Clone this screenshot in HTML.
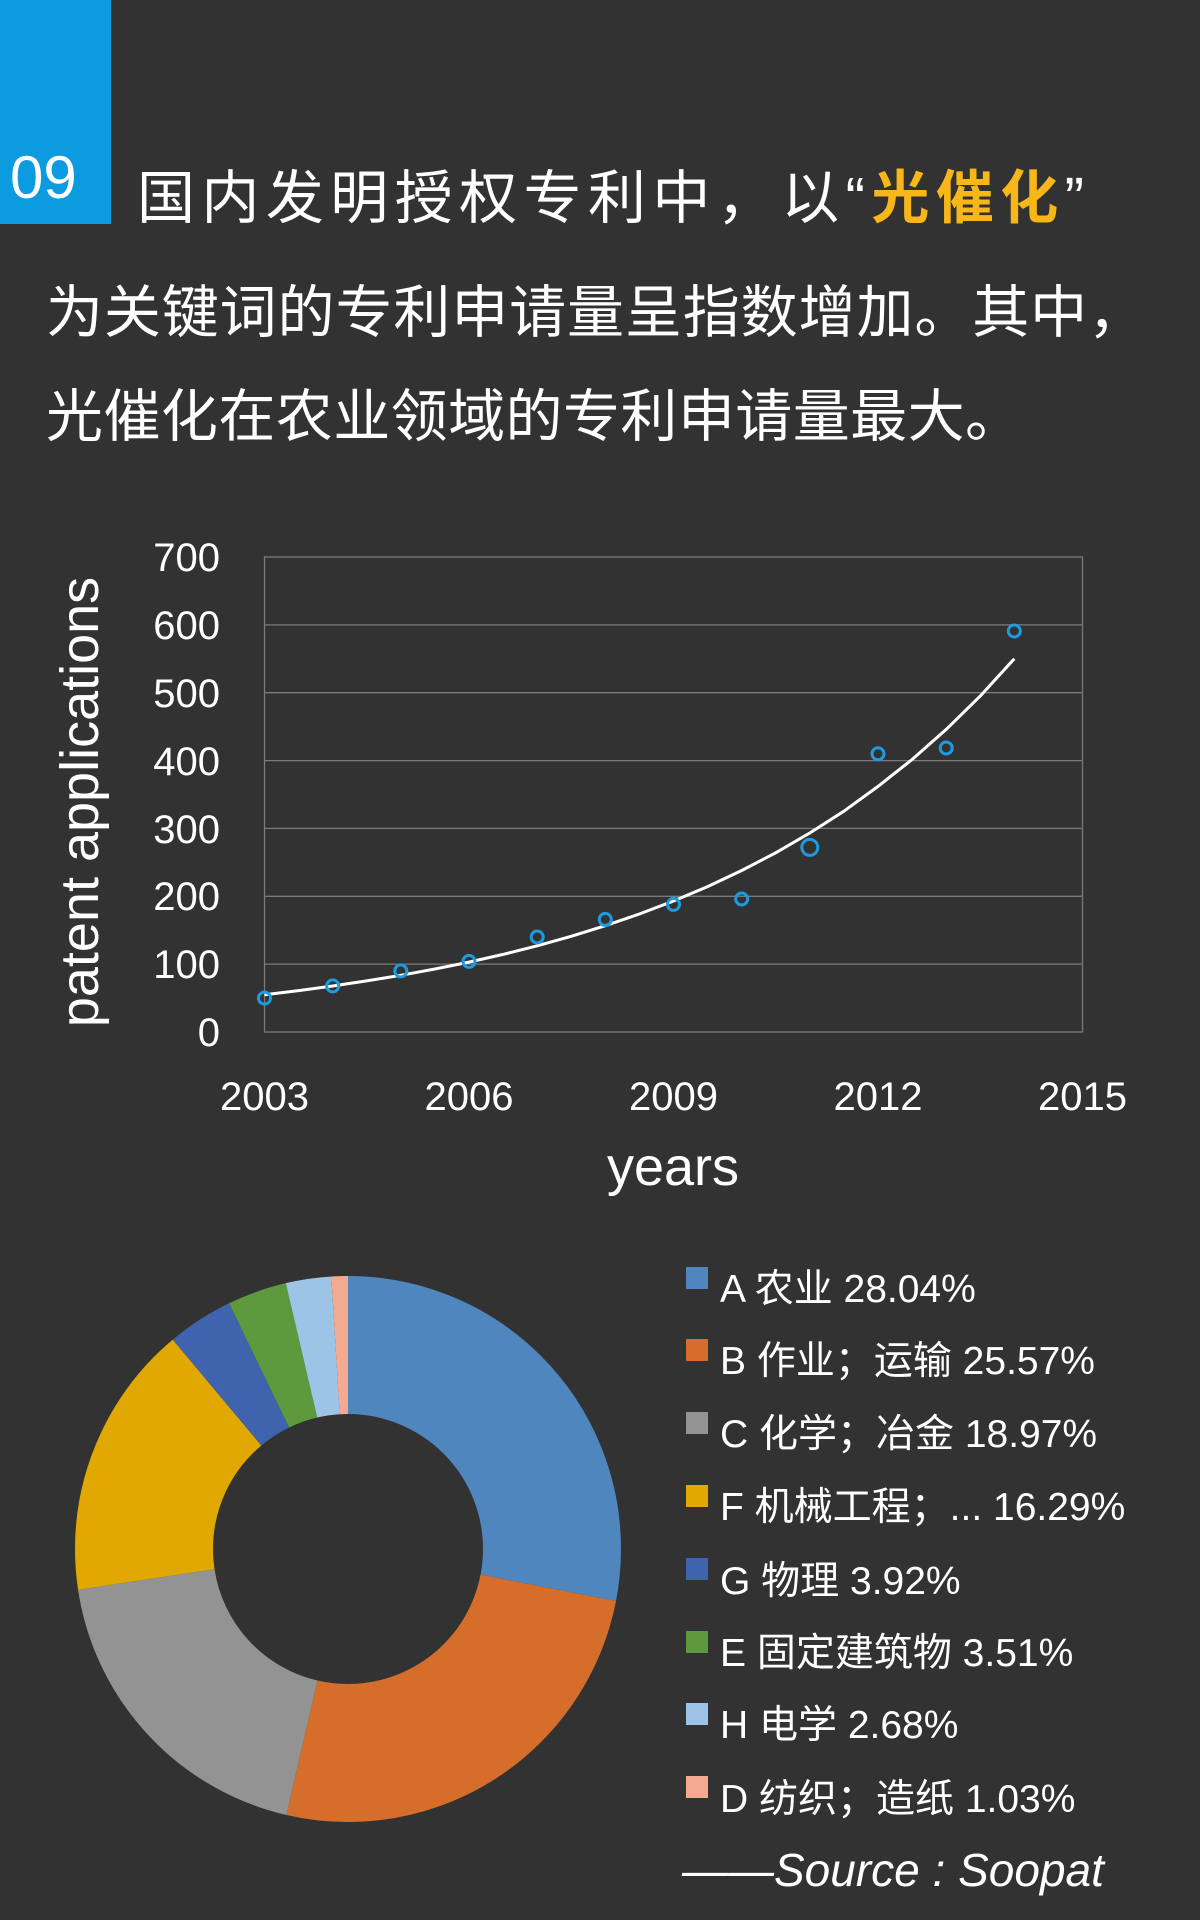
<!DOCTYPE html>
<html><head><meta charset="utf-8"><style>
html,body{margin:0;padding:0;background:#323232;}
svg{display:block;}
text{font-family:"Liberation Sans","Noto Sans CJK SC",sans-serif;}
</style></head><body>
<svg width="1200" height="1920" viewBox="0 0 1200 1920" xmlns="http://www.w3.org/2000/svg">
<rect width="1200" height="1920" fill="#323232"/>
<rect x="0" y="0" width="111" height="224" fill="#0d9be0"/>
<text x="10" y="198" font-size="60" fill="#fff">09</text>
<text x="137" y="218" font-size="58" fill="#fff" textLength="947" lengthAdjust="spacing">国内发明授权专利中，以“<tspan fill="#f7b719" font-weight="bold">光催化</tspan>”</text>
<text x="46" y="332" font-size="57" fill="#fff" textLength="1099" lengthAdjust="spacing">为关键词的专利申请量呈指数增加。其中，</text>
<text x="46" y="436" font-size="57" fill="#fff" textLength="976" lengthAdjust="spacing">光催化在农业领域的专利申请量最大。</text>

<g stroke="#7a7a7a" stroke-width="1.3" fill="none">
<rect x="264.5" y="557" width="818" height="475"/>
<line x1="264.5" y1="624.9" x2="1082.5" y2="624.9"/>
<line x1="264.5" y1="692.7" x2="1082.5" y2="692.7"/>
<line x1="264.5" y1="760.6" x2="1082.5" y2="760.6"/>
<line x1="264.5" y1="828.4" x2="1082.5" y2="828.4"/>
<line x1="264.5" y1="896.3" x2="1082.5" y2="896.3"/>
<line x1="264.5" y1="964.1" x2="1082.5" y2="964.1"/>
</g>
<g font-size="40" fill="#fff" text-anchor="end">
<text x="220" y="571">700</text><text x="220" y="639">600</text><text x="220" y="707">500</text>
<text x="220" y="775">400</text><text x="220" y="843">300</text><text x="220" y="910">200</text>
<text x="220" y="978">100</text><text x="220" y="1046">0</text>
</g>
<g font-size="40" fill="#fff" text-anchor="middle">
<text x="264.5" y="1110">2003</text><text x="469" y="1110">2006</text><text x="673.5" y="1110">2009</text>
<text x="878" y="1110">2012</text><text x="1082.5" y="1110">2015</text>
</g>
<text x="673" y="1185" font-size="54" fill="#fff" text-anchor="middle">years</text>
<text transform="translate(98,802) rotate(-90)" font-size="54" fill="#fff" text-anchor="middle">patent  applications</text>
<polyline fill="none" stroke="#fff" stroke-width="3" stroke-linejoin="round" points="264.5,994.7 298.6,990.6 332.7,986 366.7,980.9 400.8,975.3 434.9,969 469,962.1 503.1,954.4 537.2,945.8 571.2,936.3 605.3,925.7 639.4,914 673.5,901 707.6,886.6 741.7,870.5 775.7,852.8 809.8,833 843.9,811.2 878,786.4 912.1,759.5 946.2,729.4 980.2,696.1 1014.3,658.8"/>
<g fill="none" stroke="#1e9be0" stroke-width="3">
<circle cx="264.5" cy="998.1" r="6"/><circle cx="332.7" cy="985.9" r="6"/><circle cx="400.8" cy="970.9" r="6"/>
<circle cx="469" cy="961.4" r="6"/><circle cx="537.2" cy="937" r="6"/><circle cx="605.3" cy="919.4" r="6"/>
<circle cx="673.5" cy="904.4" r="6"/><circle cx="741.7" cy="899" r="6"/><circle cx="809.8" cy="847.4" r="8"/>
<circle cx="878" cy="753.8" r="6"/><circle cx="946.2" cy="748" r="6"/><circle cx="1014.3" cy="631" r="6"/>
</g>

<g transform="rotate(-90 348 1549)" fill="none" stroke-width="138">
<circle cx="348" cy="1549" r="204" stroke="#4e86bd" stroke-dasharray="359.4 2000" stroke-dashoffset="0"/>
<circle cx="348" cy="1549" r="204" stroke="#d46e2a" stroke-dasharray="327.8 2000" stroke-dashoffset="-359.4"/>
<circle cx="348" cy="1549" r="204" stroke="#939393" stroke-dasharray="243.2 2000" stroke-dashoffset="-687.2"/>
<circle cx="348" cy="1549" r="204" stroke="#e0a800" stroke-dasharray="208.8 2000" stroke-dashoffset="-930.4"/>
<circle cx="348" cy="1549" r="204" stroke="#3f63ac" stroke-dasharray="50.2 2000" stroke-dashoffset="-1139.2"/>
<circle cx="348" cy="1549" r="204" stroke="#5e9a3d" stroke-dasharray="45 2000" stroke-dashoffset="-1189.4"/>
<circle cx="348" cy="1549" r="204" stroke="#9dc3e6" stroke-dasharray="34.4 2000" stroke-dashoffset="-1234.4"/>
<circle cx="348" cy="1549" r="204" stroke="#f4aa90" stroke-dasharray="13.2 2000" stroke-dashoffset="-1268.8"/>
</g>

<g>
<rect x="686" y="1267" width="22" height="22" fill="#4e86bd"/>
<rect x="686" y="1339" width="22" height="22" fill="#d46e2a"/>
<rect x="686" y="1412" width="22" height="22" fill="#939393"/>
<rect x="686" y="1485" width="22" height="22" fill="#e0a800"/>
<rect x="686" y="1558" width="22" height="22" fill="#3f63ac"/>
<rect x="686" y="1631" width="22" height="22" fill="#5e9a3d"/>
<rect x="686" y="1703" width="22" height="22" fill="#9dc3e6"/>
<rect x="686" y="1776" width="22" height="22" fill="#f4aa90"/>
</g>
<g font-size="39" fill="#fff">
<text x="720" y="1302">A 农业 28.04%</text>
<text x="720" y="1374">B 作业；运输 25.57%</text>
<text x="720" y="1447">C 化学；冶金 18.97%</text>
<text x="720" y="1520">F 机械工程；... 16.29%</text>
<text x="720" y="1594">G 物理 3.92%</text>
<text x="720" y="1666">E 固定建筑物 3.51%</text>
<text x="720" y="1738">H 电学 2.68%</text>
<text x="720" y="1812">D 纺织；造纸 1.03%</text>
</g>
<text x="682" y="1886" font-size="46" fill="#fff" font-style="italic">——Source : Soopat</text>
</svg>
</body></html>
